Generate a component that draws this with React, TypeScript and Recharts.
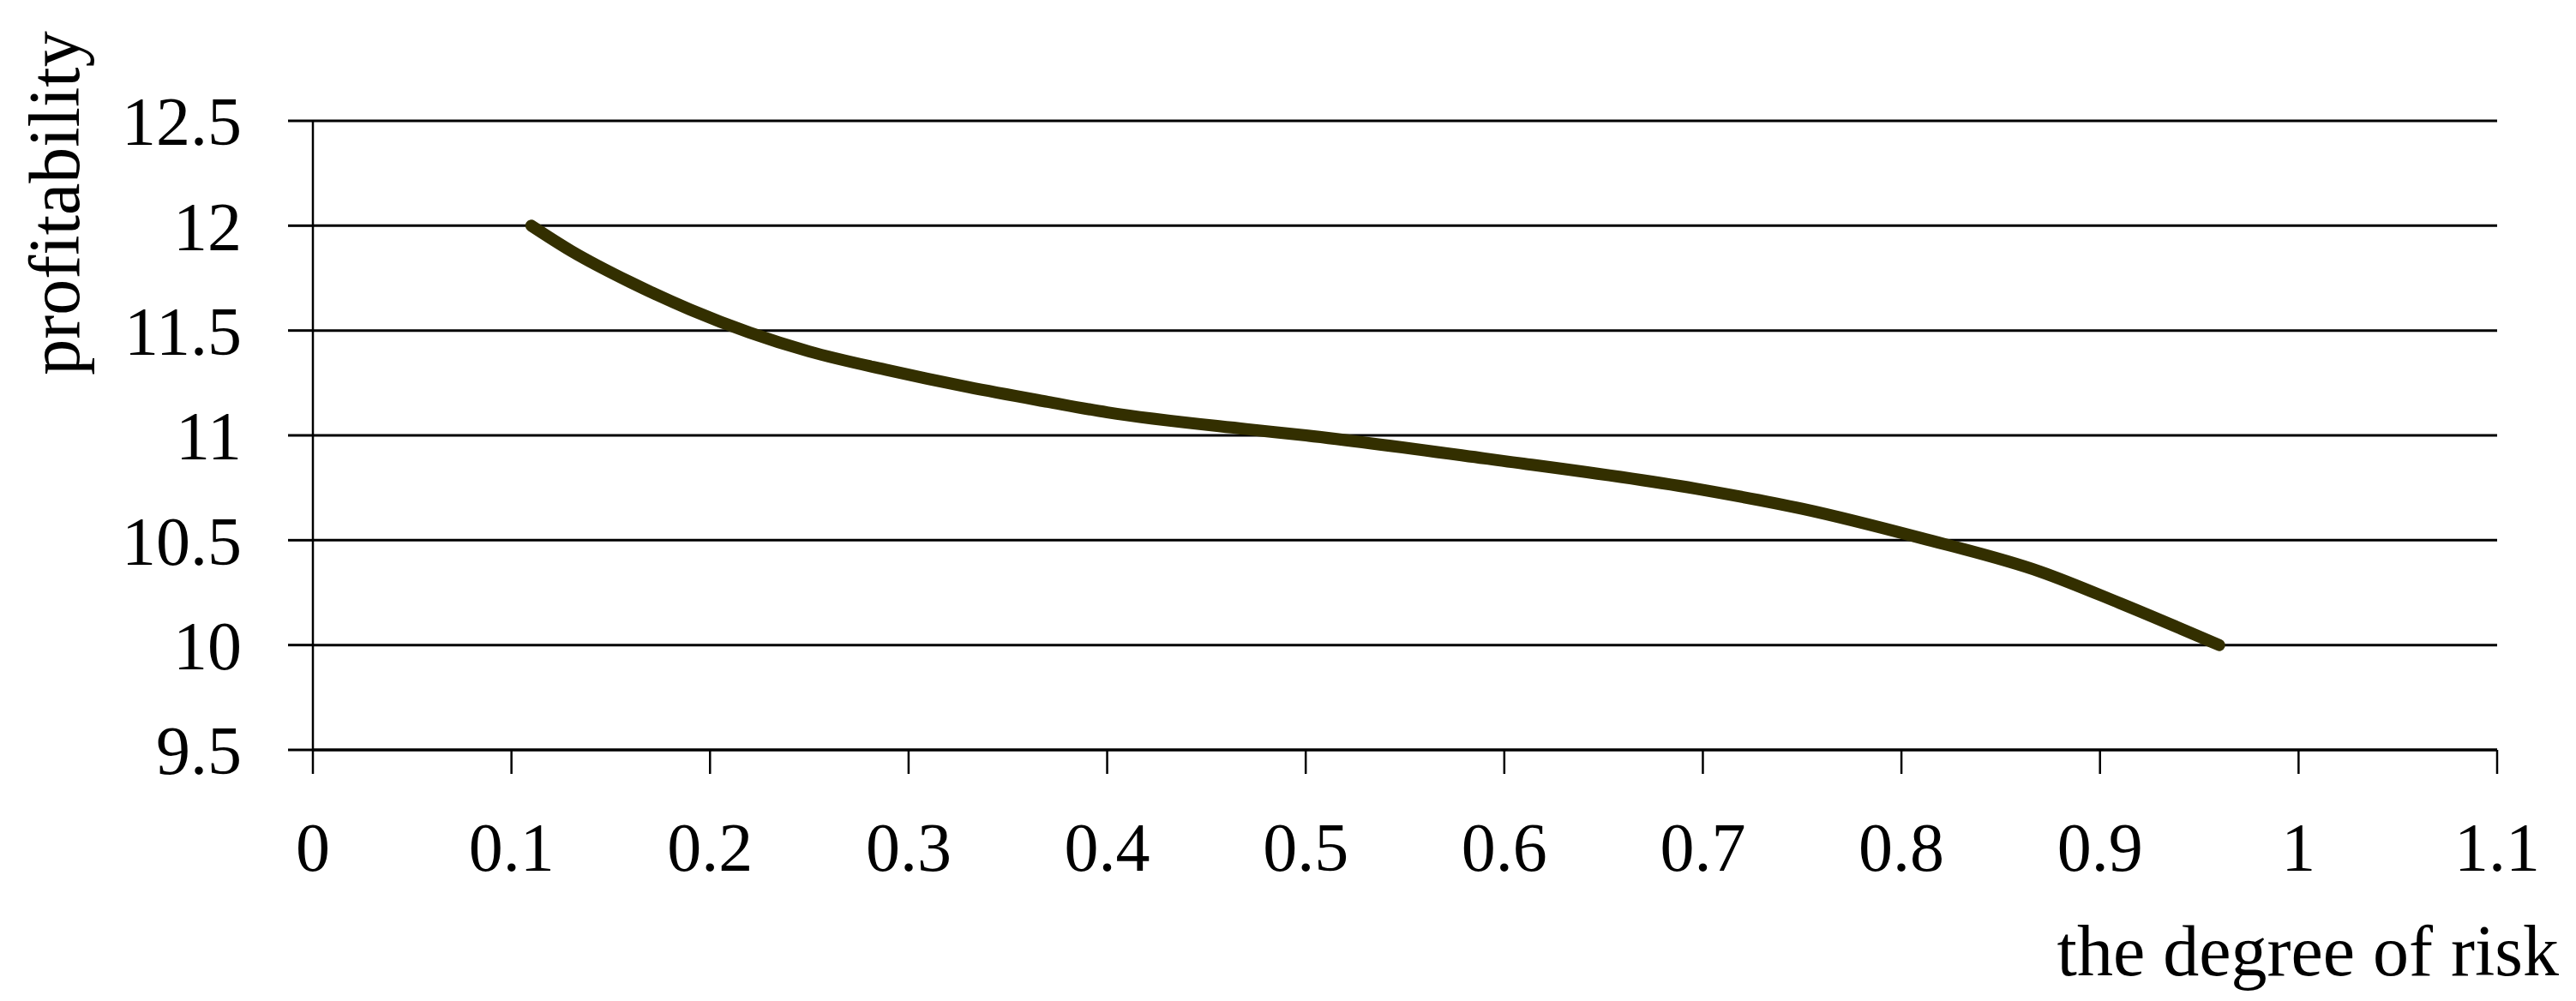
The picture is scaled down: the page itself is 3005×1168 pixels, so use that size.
import { LineChart, Line, XAxis, YAxis, CartesianGrid } from 'recharts';

// values
const riskValues = [0.11, 0.13, 0.16, 0.19, 0.22, 0.25, 0.29, 0.33, 0.37, 0.4, 0.47, 0.5, 0.59, 0.7, 0.75, 0.81, 0.87, 0.91, 0.96];
const profitValues = [12.0, 11.88, 11.73, 11.6, 11.49, 11.4, 11.31, 11.23, 11.16, 11.11, 11.03, 11.0, 10.89, 10.74, 10.65, 10.51, 10.35, 10.2, 10.0];

const xTicks = [0, 0.1, 0.2, 0.3, 0.4, 0.5, 0.6, 0.7, 0.8, 0.9, 1, 1.1];
const yTicks = [9.5, 10, 10.5, 11, 11.5, 12, 12.5];

const xTitle = 'the degree of risk';
const yTitle = 'profitability';

const data = riskValues.map((risk, i) => ({ risk, profit: profitValues[i] }));

const FONT = '"Liberation Serif", "Times New Roman", serif';

function XTitle({ viewBox }: any) {
    return (
        <text
            x={viewBox.x + viewBox.width + 72}
            y={viewBox.y + 263}
            textAnchor="end"
            fontFamily={FONT}
            fontSize={84}
            fill="#000"
        >
            {xTitle}
        </text>
    );
}

function YTitle({ viewBox }: any) {
    const cx = 92;
    const cy = viewBox.y + 96;
    return (
        <text
            x={cx}
            y={cy}
            transform={`rotate(-90 ${cx} ${cy})`}
            textAnchor="middle"
            fontFamily={FONT}
            fontSize={84}
            fill="#000"
        >
            {yTitle}
        </text>
    );
}

export default function App() {
    return (
        <div style={{ position: 'absolute', left: 0, top: 0, background: '#fff' }}>
            <LineChart
                width={3005}
                height={1168}
                data={data}
                margin={{ top: 141, right: 92, left: 0, bottom: 0 }}
            >
                <CartesianGrid horizontal vertical={false} stroke="#000" strokeWidth={3} />
                <XAxis
                    dataKey="risk"
                    type="number"
                    domain={[0, 1.1]}
                    ticks={xTicks}
                    interval={0}
                    height={293}
                    tickSize={28}
                    tickMargin={56}
                    axisLine={{ stroke: '#000', strokeWidth: 3 }}
                    tickLine={{ stroke: '#000', strokeWidth: 2.5 }}
                    tick={{ fill: '#000', fontSize: 80, fontFamily: FONT }}
                    label={XTitle}
                />
                <YAxis
                    type="number"
                    domain={[9.5, 12.5]}
                    ticks={yTicks}
                    interval={0}
                    width={365}
                    tickSize={29}
                    tickMargin={54}
                    axisLine={{ stroke: '#000', strokeWidth: 2.5 }}
                    tickLine={{ stroke: '#000', strokeWidth: 3 }}
                    tick={{ fill: '#000', fontSize: 80, fontFamily: FONT }}
                    label={YTitle}
                />
                <Line
                    type="monotone"
                    dataKey="profit"
                    stroke="#332f00"
                    strokeWidth={14}
                    strokeLinecap="round"
                    strokeLinejoin="round"
                    dot={false}
                    activeDot={false}
                    isAnimationActive={false}
                />
            </LineChart>
        </div>
    );
}
